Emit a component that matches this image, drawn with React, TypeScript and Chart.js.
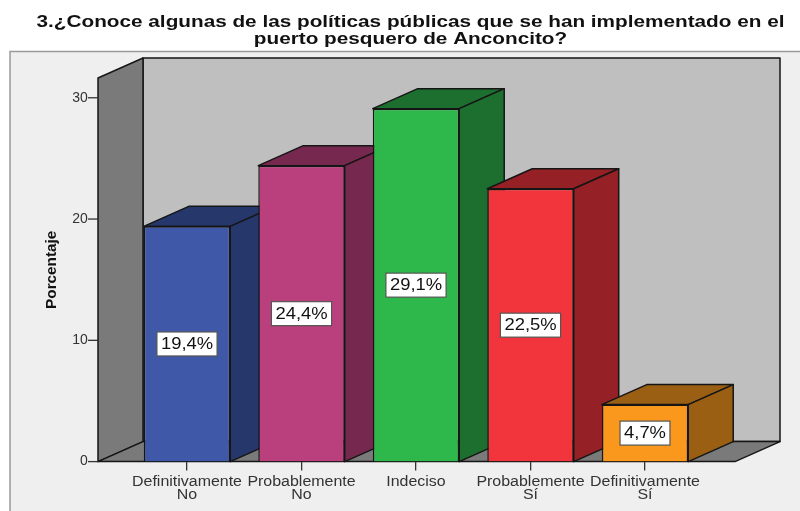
import React, { useEffect, useRef } from "react";
import { Chart, registerables } from "chart.js";

Chart.register(...registerables);

const titleLines = [
  "3.¿Conoce algunas de las políticas públicas que se han implementado en el",
  "puerto pesquero de Anconcito?",
];
const categories = [
  ["Definitivamente", "No"],
  ["Probablemente", "No"],
  ["Indeciso"],
  ["Probablemente", "Sí"],
  ["Definitivamente", "Sí"],
];
const values = [19.4, 24.4, 29.1, 22.5, 4.7];
const frontColors = ["#3F58A8", "#BA3F7D", "#2EB84C", "#F2343D", "#FA981E"];
const sideColors = ["#26376C", "#76284F", "#1C6F2E", "#952025", "#9A5F13"];
const yAxisTitle = "Porcentaje";

const DEPTH_X = 45;
const DEPTH_Y = 20;
const FRONT_LEFT = 98;
const FRONT_RIGHT = 735;
const EDGE = "#161616";
const TITLE_STRETCH = 1.296;
const TITLE_CENTER = 410.5;
const TICK_STRETCH = 1.14;
const LABEL_STRETCH = 1.15;

function poly(ctx: CanvasRenderingContext2D, pts: number[][], fill: string) {
  ctx.beginPath();
  pts.forEach((p, i) => (i ? ctx.lineTo(p[0], p[1]) : ctx.moveTo(p[0], p[1])));
  ctx.closePath();
  ctx.fillStyle = fill;
  ctx.fill();
  ctx.strokeStyle = EDGE;
  ctx.lineWidth = 1.5;
  ctx.lineJoin = "round";
  ctx.stroke();
}

const scene3d = {
  id: "scene3d",
  afterLayout(chart: any) {
    // the reference's text is stretched sideways: widen the library's own title and x labels
    const title = chart.titleBlock;
    if (title && !title.__stretched) {
      title.__stretched = true;
      const draw = title.draw.bind(title);
      title.draw = () => {
        const c = chart.ctx;
        const own = (title.left + title.right) / 2;
        c.save();
        c.translate(TITLE_CENTER, 0);
        c.scale(TITLE_STRETCH, 1);
        c.translate(-own, 0);
        draw();
        c.restore();
      };
    }
    const x = chart.scales.x;
    x.drawLabels = () => {
      const c = chart.ctx;
      x.getLabelItems(chart.chartArea).forEach((item: any) => {
        const lines = Array.isArray(item.label) ? item.label : [item.label];
        c.save();
        c.translate(item.options.translation[0], item.options.translation[1]);
        c.scale(TICK_STRETCH, 1);
        c.font = item.font.string;
        c.fillStyle = item.options.color;
        c.textAlign = "center";
        c.textBaseline = item.options.textBaseline;
        lines.forEach((ln: string, i: number) => c.fillText(ln, 0, item.textOffset + i * item.font.lineHeight));
        c.restore();
      });
    };
  },
  beforeDraw(chart: any) {
    const { ctx, chartArea, scales } = chart;
    const b = scales.y.getPixelForValue(0);
    const t = chartArea.top;
    ctx.save();
    ctx.fillStyle = "#FFFFFF";
    ctx.fillRect(0, 0, chart.width, chart.height);
    ctx.fillStyle = "#EFEFEF";
    ctx.strokeStyle = "#9A9A9A";
    ctx.lineWidth = 1.5;
    ctx.fillRect(10, 51.5, 800, 470);
    ctx.strokeRect(10, 51.5, 800, 470);
    // back wall, left wall, floor
    poly(ctx, [[FRONT_LEFT + DEPTH_X, t - DEPTH_Y], [FRONT_RIGHT + DEPTH_X, t - DEPTH_Y], [FRONT_RIGHT + DEPTH_X, b - DEPTH_Y], [FRONT_LEFT + DEPTH_X, b - DEPTH_Y]], "#BFBFBF");
    poly(ctx, [[FRONT_LEFT, t], [FRONT_LEFT + DEPTH_X, t - DEPTH_Y], [FRONT_LEFT + DEPTH_X, b - DEPTH_Y], [FRONT_LEFT, b]], "#7A7A7A");
    poly(ctx, [[FRONT_LEFT, b], [FRONT_LEFT + DEPTH_X, b - DEPTH_Y], [FRONT_RIGHT + DEPTH_X, b - DEPTH_Y], [FRONT_RIGHT, b]], "#7A7A7A");
    // y tick marks
    ctx.strokeStyle = "#333333";
    ctx.lineWidth = 1.3;
    scales.y.ticks.forEach((tk: any) => {
      const y = scales.y.getPixelForValue(tk.value);
      ctx.beginPath();
      ctx.moveTo(FRONT_LEFT - 10, y);
      ctx.lineTo(FRONT_LEFT, y);
      ctx.stroke();
    });
    ctx.restore();
  },
  beforeDatasetsDraw(chart: any) {
    const { ctx } = chart;
    const bars = chart.getDatasetMeta(0).data;
    ctx.save();
    bars.forEach((bar: any, i: number) => {
      const l = bar.x - bar.width / 2;
      const r = bar.x + bar.width / 2;
      const { y, base } = bar;
      poly(ctx, [[l, y], [l + DEPTH_X, y - DEPTH_Y], [r + DEPTH_X, y - DEPTH_Y], [r, y]], sideColors[i]);
      poly(ctx, [[r, y], [r + DEPTH_X, y - DEPTH_Y], [r + DEPTH_X, base - DEPTH_Y], [r, base]], sideColors[i]);
    });
    ctx.restore();
  },
  afterDatasetsDraw(chart: any) {
    const { ctx } = chart;
    const bars = chart.getDatasetMeta(0).data;
    ctx.save();
    ctx.font = "16px 'Liberation Sans'";
    ctx.textAlign = "center";
    ctx.textBaseline = "middle";
    bars.forEach((bar: any, i: number) => {
      const cy = (bar.y + bar.base) / 2;
      const text = values[i].toFixed(1).replace(".", ",") + "%";
      const boxW = ctx.measureText(text).width * LABEL_STRETCH + 8;
      const boxH = 24;
      ctx.fillStyle = "#FFFFFF";
      ctx.strokeStyle = "#555555";
      ctx.lineWidth = 1.2;
      ctx.fillRect(bar.x - boxW / 2, cy - boxH / 2, boxW, boxH);
      ctx.strokeRect(bar.x - boxW / 2, cy - boxH / 2, boxW, boxH);
      ctx.fillStyle = "#111111";
      ctx.save();
      ctx.translate(bar.x, cy + 0.5);
      ctx.scale(LABEL_STRETCH, 1);
      ctx.fillText(text, 0, 0);
      ctx.restore();
    });
    ctx.restore();
  },
};

export default function App() {
  const ref = useRef<HTMLCanvasElement>(null);
  useEffect(() => {
    document.body.style.margin = "0";
    document.documentElement.style.overflow = "hidden";
    const chart = new Chart(ref.current as HTMLCanvasElement, {
      type: "bar",
      data: {
        labels: categories as any,
        datasets: [
          {
            data: values,
            backgroundColor: frontColors,
            borderColor: EDGE,
            borderWidth: 1.5,
            categoryPercentage: 1,
            barPercentage: 0.755,
          },
        ],
      },
      plugins: [scene3d],
      options: {
        animation: false,
        responsive: false,
        layout: { autoPadding: false, padding: { left: 0, right: 97.75, top: 0, bottom: 0 } },
        plugins: {
          legend: { display: false },
          tooltip: { enabled: false },
          title: {
            display: true,
            text: titleLines,
            color: "#111111",
            font: { family: "'Liberation Sans'", size: 16, weight: "bold", lineHeight: 1.08 },
            padding: { top: 13.5, bottom: 29.94 },
          },
        },
        scales: {
          x: {
            offset: true,
            afterFit: (s: any) => {
              s.height = 48;
            },
            border: { display: false },
            grid: { offset: false, drawOnChartArea: false, drawTicks: true, tickLength: 9, color: "#333333", lineWidth: 1.3 },
            ticks: { padding: 5, maxRotation: 0, autoSkip: false, color: "#333333", font: { family: "'Liberation Sans'", size: 14, lineHeight: 0.92 } },
          },
          y: {
            min: 0,
            max: 31.63,
            afterFit: (s: any) => {
              s.width = 129.75;
            },
            border: { display: false },
            grid: { display: false, drawTicks: false },
            ticks: { stepSize: 10, includeBounds: false, padding: 42, color: "#333333", font: { family: "'Liberation Sans'", size: 14 } },
            title: {
              display: true,
              text: yAxisTitle,
              color: "#111111",
              padding: { top: 42.5, bottom: 0 },
              font: { family: "'Liberation Sans'", size: 15.3, weight: "bold" },
            },
          },
        },
      },
    } as any);
    return () => chart.destroy();
  }, []);
  return (
    <div style={{ width: 800, height: 511, overflow: "hidden" }}>
      <canvas ref={ref} width={800} height={512} style={{ display: "block" }} />
    </div>
  );
}
